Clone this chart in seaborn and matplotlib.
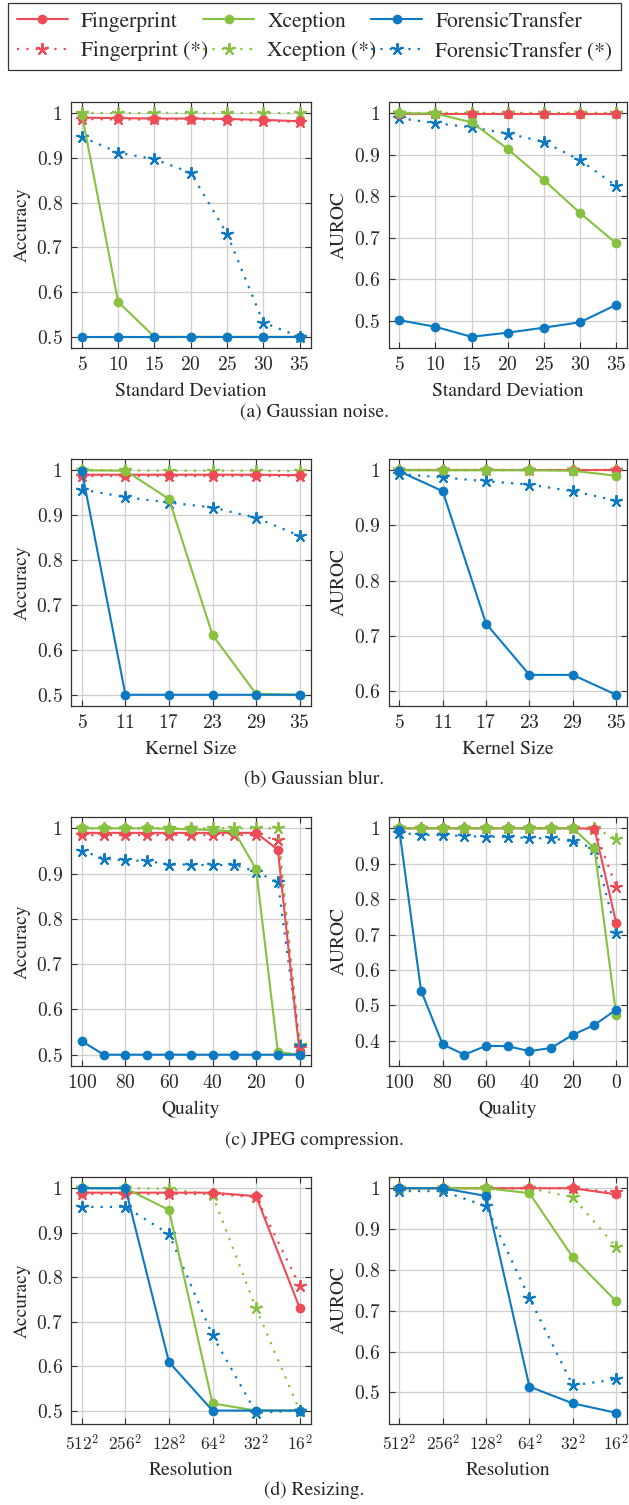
import numpy as np
import pandas as pd
import matplotlib
matplotlib.use("Agg")
import matplotlib.pyplot as plt
import seaborn as sns
from matplotlib.ticker import MultipleLocator, FuncFormatter, FixedLocator
from matplotlib.lines import Line2D

# ---- data ----
models = ["Fingerprint", "Xception", "ForensicTransfer"]

noise_x = [5, 10, 15, 20, 25, 30, 35]
noise_acc = {
    "Fingerprint": [0.990, 0.989, 0.988, 0.988, 0.987, 0.985, 0.982],
    "Xception": [0.997, 0.578, 0.500, 0.500, 0.500, 0.500, 0.500],
    "ForensicTransfer": [0.500, 0.500, 0.500, 0.500, 0.500, 0.500, 0.500],
    "Fingerprint (*)": [0.987, 0.986, 0.986, 0.986, 0.985, 0.983, 0.980],
    "Xception (*)": [1.000, 1.000, 1.000, 1.000, 1.000, 1.000, 1.000],
    "ForensicTransfer (*)": [0.947, 0.912, 0.897, 0.867, 0.730, 0.532, 0.500],
}
noise_auc = {
    "Fingerprint": [0.999, 0.999, 0.999, 0.999, 0.999, 0.999, 0.999],
    "Xception": [1.000, 0.999, 0.978, 0.914, 0.839, 0.760, 0.687],
    "ForensicTransfer": [0.502, 0.486, 0.462, 0.472, 0.484, 0.497, 0.539],
    "Fingerprint (*)": [1.000, 1.000, 1.000, 1.000, 1.000, 1.000, 1.000],
    "Xception (*)": [1.000, 1.000, 1.000, 1.000, 1.000, 1.000, 1.000],
    "ForensicTransfer (*)": [0.988, 0.976, 0.966, 0.951, 0.931, 0.887, 0.825],
}

blur_x = [5, 11, 17, 23, 29, 35]
blur_acc = {
    "Fingerprint": [0.990, 0.990, 0.990, 0.990, 0.990, 0.989],
    "Xception": [1.000, 0.999, 0.936, 0.633, 0.502, 0.500],
    "ForensicTransfer": [0.998, 0.500, 0.500, 0.500, 0.500, 0.500],
    "Fingerprint (*)": [0.988, 0.988, 0.988, 0.988, 0.988, 0.988],
    "Xception (*)": [1.000, 1.000, 0.999, 0.999, 0.999, 0.998],
    "ForensicTransfer (*)": [0.957, 0.940, 0.928, 0.917, 0.894, 0.854],
}
blur_auc = {
    "Fingerprint": [1.000, 1.000, 1.000, 1.000, 1.000, 1.000],
    "Xception": [1.000, 1.000, 1.000, 1.000, 0.999, 0.990],
    "ForensicTransfer": [0.998, 0.962, 0.722, 0.629, 0.629, 0.593],
    "Fingerprint (*)": [1.000, 1.000, 1.000, 1.000, 1.000, 1.000],
    "Xception (*)": [1.000, 1.000, 1.000, 1.000, 1.000, 1.000],
    "ForensicTransfer (*)": [0.993, 0.987, 0.980, 0.974, 0.962, 0.945],
}

jpeg_x = [100, 90, 80, 70, 60, 50, 40, 30, 20, 10, 0]
jpeg_acc = {
    "Fingerprint": [0.990, 0.990, 0.990, 0.990, 0.990, 0.990, 0.990, 0.990, 0.990, 0.953, 0.505],
    "Xception": [1.000, 1.000, 1.000, 1.000, 0.999, 0.998, 0.996, 0.993, 0.910, 0.506, 0.500],
    "ForensicTransfer": [0.530, 0.500, 0.500, 0.500, 0.500, 0.500, 0.500, 0.500, 0.500, 0.500, 0.500],
    "Fingerprint (*)": [0.985, 0.985, 0.985, 0.985, 0.985, 0.985, 0.985, 0.985, 0.985, 0.975, 0.515],
    "Xception (*)": [1.000, 1.000, 1.000, 1.000, 1.000, 1.000, 1.000, 1.000, 1.000, 1.000, 0.522],
    "ForensicTransfer (*)": [0.951, 0.933, 0.929, 0.928, 0.920, 0.920, 0.918, 0.920, 0.904, 0.881, 0.519],
}
jpeg_auc = {
    "Fingerprint": [1.000, 1.000, 1.000, 1.000, 1.000, 1.000, 1.000, 1.000, 1.000, 0.999, 0.734],
    "Xception": [1.000, 1.000, 1.000, 1.000, 1.000, 1.000, 1.000, 1.000, 1.000, 0.944, 0.474],
    "ForensicTransfer": [0.995, 0.542, 0.390, 0.361, 0.386, 0.385, 0.371, 0.380, 0.417, 0.445, 0.488],
    "Fingerprint (*)": [1.000, 1.000, 1.000, 1.000, 1.000, 1.000, 1.000, 1.000, 1.000, 0.998, 0.835],
    "Xception (*)": [1.000, 1.000, 1.000, 1.000, 1.000, 1.000, 1.000, 1.000, 1.000, 1.000, 0.971],
    "ForensicTransfer (*)": [0.988, 0.981, 0.981, 0.978, 0.976, 0.976, 0.972, 0.972, 0.963, 0.943, 0.704],
}

res_x = [512, 256, 128, 64, 32, 16]
res_labels = [r"$512^2$", r"$256^2$", r"$128^2$", r"$64^2$", r"$32^2$", r"$16^2$"]
res_acc = {
    "Fingerprint": [0.990, 0.990, 0.990, 0.990, 0.982, 0.731],
    "Xception": [1.000, 1.000, 0.951, 0.516, 0.500, 0.500],
    "ForensicTransfer": [1.000, 1.000, 0.609, 0.500, 0.500, 0.500],
    "Fingerprint (*)": [0.987, 0.987, 0.987, 0.987, 0.980, 0.781],
    "Xception (*)": [1.000, 1.000, 0.999, 0.985, 0.730, 0.500],
    "ForensicTransfer (*)": [0.958, 0.958, 0.897, 0.669, 0.495, 0.500],
}
res_auc = {
    "Fingerprint": [1.000, 1.000, 1.000, 1.000, 1.000, 0.985],
    "Xception": [1.000, 1.000, 1.000, 0.988, 0.831, 0.723],
    "ForensicTransfer": [1.000, 1.000, 0.981, 0.514, 0.473, 0.450],
    "Fingerprint (*)": [1.000, 1.000, 1.000, 1.000, 1.000, 0.990],
    "Xception (*)": [1.000, 1.000, 1.000, 1.000, 0.978, 0.856],
    "ForensicTransfer (*)": [0.993, 0.993, 0.956, 0.731, 0.517, 0.532],
}

captions = ["(a) Gaussian noise.", "(b) Gaussian blur.", "(c) JPEG compression.", "(d) Resizing."]
xlabels = ["Standard Deviation", "Kernel Size", "Quality", "Resolution"]

colors = {"Fingerprint": "#EE4B57", "Xception": "#86C140", "ForensicTransfer": "#0C79C2"}

sns.set_style("whitegrid")
# Times-like text; STIX ships with matplotlib itself
serif = ["STIXGeneral", "Liberation Serif", "DejaVu Serif"]
plt.rcParams["font.family"] = serif
plt.rcParams["mathtext.fontset"] = "cm"

W, H = 629, 1505
fig = plt.figure(figsize=(W / 100, H / 100), dpi=100)

rows_px = [(102, 348), (459, 706), (817, 1066), (1177, 1424)]
cols_px = [(71, 310.5), (388.5, 627)]
cap_y = [412, 780, 1140, 1490]

tickfmt = FuncFormatter(lambda v, p: "$%g$" % round(v, 3))


def draw(ax, x, series):
    order = ["Fingerprint", "Xception", "ForensicTransfer"]
    for m in order:
        sns.lineplot(x=x, y=series[m + " (*)"], ax=ax, color=colors[m], linestyle=(0, (1, 3.2)),
                     linewidth=1.6, marker=(5, 2, 0), markersize=9, markeredgewidth=1.4,
                     markeredgecolor=colors[m], sort=False, zorder=3)
    for m in order:
        sns.lineplot(x=x, y=series[m], ax=ax, color=colors[m], linestyle="-", linewidth=1.5,
                     marker="o", markersize=7, markeredgewidth=0, sort=False, zorder=4)


panels = [
    (noise_x, noise_acc, noise_auc),
    (blur_x, blur_acc, blur_auc),
    (jpeg_x, jpeg_acc, jpeg_auc),
    (res_x, res_acc, res_auc),
]

for r, (x, acc, auc) in enumerate(panels):
    top, bot = rows_px[r]
    for c, (series, ylab) in enumerate([(acc, "Accuracy"), (auc, "AUROC")]):
        l, rr = cols_px[c]
        ax = fig.add_axes([l / W, 1 - bot / H, (rr - l) / W, (bot - top) / H])
        draw(ax, x, series)
        ax.margins(x=0.05, y=0.05)
        if r == 3:
            ax.set_xscale("log", base=2)
            ax.xaxis.set_major_locator(FixedLocator(res_x))
            ax.xaxis.set_minor_locator(FixedLocator([]))
            ax.set_xticklabels(res_labels)
            ax.invert_xaxis()
        elif r == 2:
            ax.xaxis.set_major_locator(FixedLocator([100, 80, 60, 40, 20, 0]))
            ax.xaxis.set_major_formatter(tickfmt)
            ax.invert_xaxis()
        else:
            ax.xaxis.set_major_locator(FixedLocator(x))
            ax.xaxis.set_major_formatter(tickfmt)
        ax.yaxis.set_major_locator(MultipleLocator(0.1))
        ax.yaxis.set_major_formatter(tickfmt)
        ax.grid(True, color="#cfcfcf", linewidth=0.9)
        for s in ax.spines.values():
            s.set_color("#333333")
            s.set_linewidth(0.9)
        ax.tick_params(direction="in", length=4, width=0.8, color="#333333",
                       top=True, right=True, bottom=True, left=True,
                       labelsize=14, pad=6)
        if r == 3:
            ax.tick_params(axis="x", labelsize=12.5, pad=7)
        ax.set_xlabel(xlabels[r], fontsize=14, labelpad=6, family=serif)
        ax.set_ylabel(ylab, fontsize=14, labelpad=4, family=serif)
    fig.text(0.5, 1 - cap_y[r] / H, captions[r], ha="center", va="center",
             fontsize=14, family=serif)

handles = []
labels = []
for m in models:
    handles.append(Line2D([], [], color=colors[m], linestyle="-", linewidth=1.5, marker="o",
                          markersize=7, markeredgewidth=0))
    labels.append(m)
    handles.append(Line2D([], [], color=colors[m], linestyle=(0, (1, 3.2)), linewidth=1.6,
                          marker=(5, 2, 0), markersize=9, markeredgewidth=1.4))
    labels.append(m + " (*)")

leg = fig.legend(handles, labels, ncol=3, loc="lower left",
                 bbox_to_anchor=(8 / W, 1 - 70 / H, 613 / W, 67 / H), mode="expand",
                 prop={"family": serif, "size": 15.5}, frameon=True, fancybox=False,
                 framealpha=1, edgecolor="#333333", borderaxespad=0, handlelength=2.4,
                 handletextpad=0.6, columnspacing=1.0, labelspacing=0.45, borderpad=0.4)
leg.get_frame().set_linewidth(0.9)

fig.savefig("out.png", dpi=100)
